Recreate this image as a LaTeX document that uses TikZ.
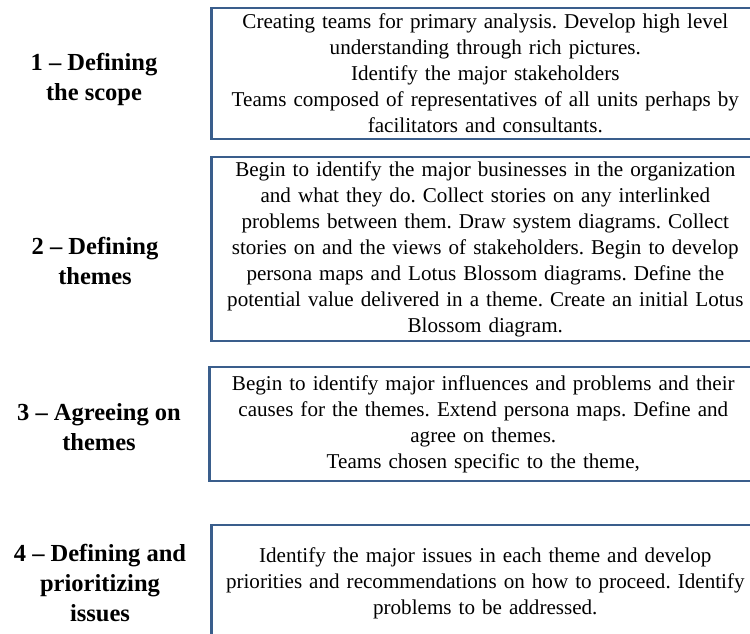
\documentclass[tikz,border=0pt]{standalone}
\usepackage{fontspec}
\setmainfont{Liberation Serif}
\usetikzlibrary{positioning}
\definecolor{boxblue}{RGB}{58,94,140}
\frenchspacing
\tikzset{
	every path/.style={thick},
	align=center,
	stage/.style={
		font=\bfseries\fontsize{24.5}{30}\selectfont,
	},
	task/.style={
		draw=boxblue,
		line width=2.6pt,
		rectangle,
		anchor=west,
		minimum width=548pt,
		text width=530pt,
		inner sep=0pt,
		font=\fontsize{21.1}{26}\selectfont,
	},
}

\begin{document}
\begin{tikzpicture}[x=1pt,y=-1pt]
		\useasboundingbox (0,0) rectangle (750,633);

		\node[stage] (scope) at (94,79) {1 -- Defining\\the scope};
		\node[stage] (themes) at (95,261) {2 -- Defining\\themes};
		\node[stage] (agree) at (99,427) {3 -- Agreeing on\\themes};
		\node[stage] (issues) at (100,583) {4 -- Defining and\\prioritizing\\issues};

		\node[task, minimum height=131pt] (scopetask) at (210,73.5) {Creating teams for primary analysis. Develop high level\\understanding through rich pictures.\\Identify the major stakeholders\\Teams composed of representatives of all units perhaps by\\facilitators and consultants.};
		\node[task, minimum height=184pt] (themestask) at (210,249) {Begin to identify the major businesses in the organization\\and what they do. Collect stories on any interlinked\\problems between them. Draw system diagrams. Collect\\stories on and the views of stakeholders. Begin to develop\\persona maps and Lotus Blossom diagrams. Define the\\potential value delivered in a theme. Create an initial Lotus\\Blossom diagram.};
		\node[task, minimum height=114pt] (agreetask) at (208,424) {Begin to identify major influences and problems and their\\causes for the themes. Extend persona maps. Define and\\agree on themes.\\Teams chosen specific to the theme,};
		%\node[task] (issuestask) at (210,583) {};
		\node[task, minimum height=116pt] (issuestask) at (210,583) {Identify the major issues in each theme and develop\\priorities and recommendations on how to proceed. Identify\\problems to be addressed.};

	\end{tikzpicture}
\end{document}
